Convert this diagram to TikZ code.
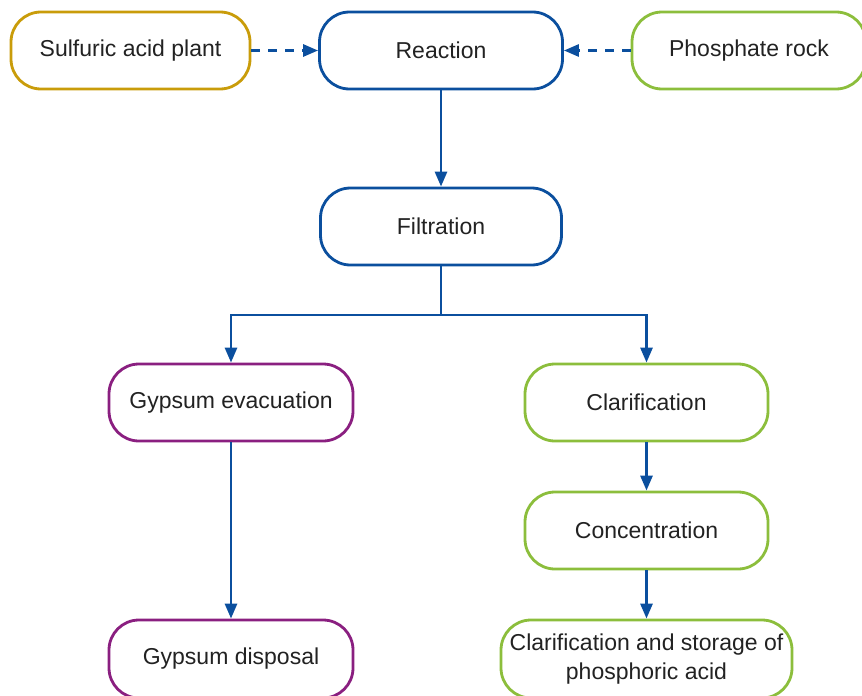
\documentclass[tikz,border=0pt]{standalone}
\usepackage{fontspec}
\setmainfont{Liberation Sans}
\usetikzlibrary{arrows.meta}
\definecolor{cgold}{HTML}{C99C0A}
\definecolor{cblue}{HTML}{0B4F9E}
\definecolor{cgreen}{HTML}{8CBE3C}
\definecolor{cpurple}{HTML}{8A1F80}
\definecolor{ctext}{HTML}{222222}
\tikzset{
  box/.style={draw, rectangle, rounded corners=30pt, line width=2.8pt, fill=white,
    minimum height=77pt, inner sep=2pt, align=center, text=ctext,
    font=\fontsize{23}{29}\selectfont},
  conn/.style={draw=cblue, line width=2.8pt, -{Triangle[length=15pt,width=12pt]}},
  plainconn/.style={draw=cblue, line width=2.8pt},
  dconn/.style={conn, dash pattern=on 9pt off 8pt}
}
\begin{document}
\begin{tikzpicture}[x=1pt,y=-1pt]
\useasboundingbox (0,0) rectangle (862,696);
\clip (0,0) rectangle (862,696);
\node[box, draw=cgold, minimum width=239pt] (sap) at (130.5,50.5) {Sulfuric acid plant};
\node[box, draw=cblue, minimum width=243pt] (react) at (441,50.5) {Reaction};
\node[box, draw=cgreen, minimum width=234pt] (rock) at (749,50.5) {Phosphate rock};
\node[box, draw=cblue, minimum width=241pt] (filt) at (441,226.5) {Filtration};
\node[box, draw=cpurple, minimum width=244pt] (gevac) at (231,402.5) {Gypsum evacuation};
\node[box, draw=cgreen, minimum width=243pt] (clar) at (646.5,402.5) {Clarification};
\node[box, draw=cgreen, minimum width=243pt] (conc) at (646.5,530.5) {Concentration};
\node[box, draw=cgreen, minimum width=291pt, minimum height=78pt] (store) at (646.5,659) {Clarification and storage of\\phosphoric acid};
\node[box, draw=cpurple, minimum width=244pt, minimum height=78pt] (gdisp) at (231,659) {Gypsum disposal};
\coordinate (split) at (441,315);
\draw[dconn] (sap.east) -- (react.west);
\draw[dconn] (rock.west) -- (react.east);
\draw[conn] (react.south) -- (filt.north);
\draw[plainconn] (filt.south) -- (split);
\draw[conn] (split) -| (gevac.north);
\draw[conn] (split) -| (clar.north);
\draw[conn] (gevac.south) -- (gdisp.north);
\draw[conn] (clar.south) -- (conc.north);
\draw[conn] (conc.south) -- (store.north);
\end{tikzpicture}
\end{document}
